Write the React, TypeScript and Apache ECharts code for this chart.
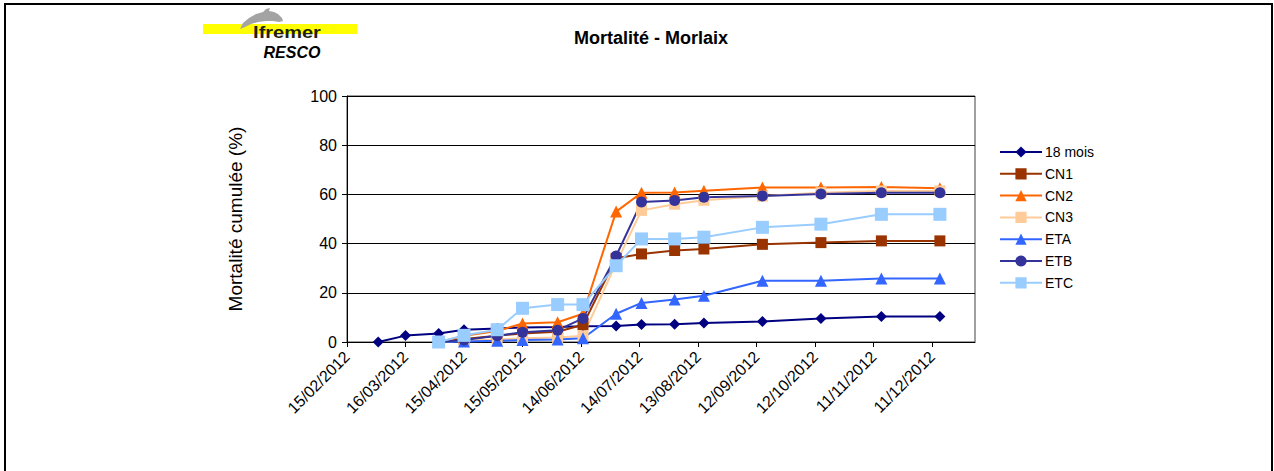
import React, { useEffect, useRef } from "react";
import * as echarts from "echarts";

// ---- Data ----
const seriesNames = ["18 mois", "CN1", "CN2", "CN3", "ETA", "ETB", "ETC"];
const dates18 = [
  "02/03/2012", "16/03/2012", "02/04/2012", "15/04/2012", "02/05/2012", "15/05/2012",
  "02/06/2012", "15/06/2012", "02/07/2012", "15/07/2012", "01/08/2012", "16/08/2012",
  "15/09/2012", "15/10/2012", "15/11/2012", "15/12/2012",
];
const datesLots = [
  "02/04/2012", "15/04/2012", "02/05/2012", "15/05/2012", "02/06/2012", "15/06/2012",
  "02/07/2012", "15/07/2012", "01/08/2012", "16/08/2012", "15/09/2012", "15/10/2012",
  "15/11/2012", "15/12/2012",
];
const v18mois = [0, 2.6, 3.5, 5.0, 5.5, 5.9, 6.1, 6.4, 6.5, 7.1, 7.2, 7.7, 8.3, 9.6, 10.4, 10.4];
const vCN1 = [0, 1.2, 2.5, 3.5, 4.2, 7.0, 34.0, 35.8, 37.2, 37.8, 39.7, 40.4, 41.1, 41.1];
const vCN2 = [0, 2.5, 4.5, 7.5, 8.0, 11.5, 53.0, 60.7, 60.8, 61.5, 62.8, 62.8, 63.0, 62.5];
const vCN3 = [0, 0.5, 1.0, 1.5, 1.8, 2.5, 32.0, 53.5, 56.0, 57.6, 59.3, 60.7, 61.4, 61.4];
const vETA = [0, 0.2, 0.5, 0.8, 1.0, 1.5, 11.5, 15.9, 17.3, 18.8, 24.9, 24.9, 25.8, 25.8];
const vETB = [0, 0.8, 2.5, 4.0, 4.8, 9.6, 35.0, 56.9, 57.5, 58.8, 59.4, 60.2, 60.7, 60.7];
const vETC = [0, 2.7, 5.0, 13.7, 15.2, 15.2, 31.0, 41.9, 41.9, 42.6, 46.6, 47.9, 51.9, 51.9];

const axisStartDate = "15/02/2012";
const axisEndDays = 322;
const tickDays = 30;
const yTicks = { min: 0, max: 100, interval: 20 };

const titleText = "Mortalité - Morlaix";
const yAxisName = "Mortalité cumulée (%)";

// ---- helpers ----
const parseDate = (s: string) => {
  const [d, m, y] = s.split("/").map(Number);
  return Date.UTC(y, m - 1, d);
};
const DAY = 86400000;
const origin = parseDate(axisStartDate);
const toDay = (s: string) => Math.round((parseDate(s) - origin) / DAY);
const fmtDay = (v: number) => {
  const dt = new Date(origin + v * DAY);
  const dd = String(dt.getUTCDate()).padStart(2, "0");
  const mm = String(dt.getUTCMonth() + 1).padStart(2, "0");
  return `${dd}/${mm}/${dt.getUTCFullYear()}`;
};

const FONT = "Arial, 'Liberation Sans', sans-serif";

const styles: Record<string, { color: string; symbol: string; size: number }> = {
  "18 mois": { color: "#000080", symbol: "diamond", size: 11 },
  CN1: { color: "#993300", symbol: "rect", size: 11 },
  CN2: { color: "#FF6600", symbol: "triangle", size: 12 },
  CN3: { color: "#FFCC99", symbol: "rect", size: 11 },
  ETA: { color: "#3366FF", symbol: "triangle", size: 12 },
  ETB: { color: "#333399", symbol: "circle", size: 11 },
  ETC: { color: "#99CCFF", symbol: "rect", size: 13 },
};

export default function App() {
  const ref = useRef<HTMLDivElement>(null);
  useEffect(() => {
    if (!ref.current) return;
    const chart = echarts.init(ref.current, undefined, { renderer: "svg" });
    const valuesByName: Record<string, number[]> = {
      "18 mois": v18mois,
      CN1: vCN1,
      CN2: vCN2,
      CN3: vCN3,
      ETA: vETA,
      ETB: vETB,
      ETC: vETC,
    };
    const series = seriesNames.map((name) => {
      const dates = name === "18 mois" ? dates18 : datesLots;
      const vals = valuesByName[name];
      const st = styles[name];
      return {
        name,
        type: "line",
        data: dates.map((d, i) => [toDay(d), vals[i]]),
        symbol: st.symbol,
        symbolSize: st.size,
        showAllSymbol: true,
        lineStyle: { color: st.color, width: 2 },
        itemStyle: { color: st.color, borderWidth: 0 },
        emphasis: { disabled: true },
      };
    });
    chart.setOption({
      animation: false,
      backgroundColor: "#ffffff",
      textStyle: { fontFamily: FONT },
      grid: {
        left: 347,
        right: 299,
        top: 96,
        bottom: 129,
        show: true,
        borderColor: "#404040",
        borderWidth: 1,
      },
      legend: {
        orient: "vertical",
        left: 994,
        top: 140,
        itemWidth: 42,
        itemHeight: 14,
        itemGap: 7.8,
        data: seriesNames,
        textStyle: { fontFamily: FONT, fontSize: 14, color: "#000", padding: [0, 0, 0, -2] },
      },
      xAxis: {
        type: "value",
        min: 0,
        max: axisEndDays,
        interval: tickDays,
        splitLine: { show: false },
        axisLine: { show: true, lineStyle: { color: "#000", width: 1 } },
        axisTick: { show: true, length: 5, lineStyle: { color: "#000" } },
        axisLabel: {
          rotate: 45,
          margin: 12,
          fontSize: 16,
          fontFamily: FONT,
          color: "#000",
          showMaxLabel: false,
          formatter: (v: number) => (v % tickDays === 0 ? fmtDay(v) : ""),
        },
      },
      yAxis: {
        type: "value",
        min: yTicks.min,
        max: yTicks.max,
        interval: yTicks.interval,
        name: yAxisName,
        nameLocation: "middle",
        nameGap: 102,
        nameTextStyle: { fontSize: 19, fontFamily: FONT, color: "#000" },
        axisLine: { show: true, lineStyle: { color: "#000", width: 1 } },
        axisTick: { show: true, length: 5, lineStyle: { color: "#000" } },
        axisLabel: { fontSize: 16, fontFamily: FONT, color: "#000", margin: 10 },
        splitLine: { show: true, lineStyle: { color: "#000", width: 1 } },
      },
      graphic: [
        {
          type: "rect",
          shape: { x: 5, y: 4, width: 1267, height: 490 },
          style: { fill: "none", stroke: "#000", lineWidth: 2 },
          silent: true,
        },
        {
          type: "text",
          x: 651,
          y: 38,
          style: {
            text: titleText,
            font: `bold 18px ${FONT}`,
            fill: "#000",
            align: "center",
            verticalAlign: "middle",
          },
        },
        {
          type: "rect",
          shape: { x: 203, y: 24, width: 154, height: 10 },
          style: { fill: "#FFFF00" },
        },
        {
          type: "polygon",
          shape: {
            points: [
              [240, 29], [243, 23], [249, 18], [256, 14], [263, 12], [266, 9], [270, 8],
              [269, 11], [274, 12], [278, 14], [282, 18], [283, 21], [279, 22], [273, 21],
              [266, 21], [258, 22], [251, 24], [245, 27],
            ],
          },
          style: { fill: "#a3a3a3" },
        },
        {
          type: "text",
          x: 287,
          y: 33,
          scaleX: 1.25,
          style: {
            text: "Ifremer",
            font: `bold 16px ${FONT}`,
            fill: "#1e1e10",
            align: "center",
            verticalAlign: "middle",
          },
        },
        {
          type: "text",
          x: 292,
          y: 52,
          style: {
            text: "RESCO",
            font: `italic bold 16px ${FONT}`,
            fill: "#000",
            align: "center",
            verticalAlign: "middle",
          },
        },
      ],
      series,
    });
    return () => chart.dispose();
  }, []);
  return (
    <div
      ref={ref}
      style={{ position: "absolute", left: 0, top: 0, width: 1274, height: 471 }}
    />
  );
}
